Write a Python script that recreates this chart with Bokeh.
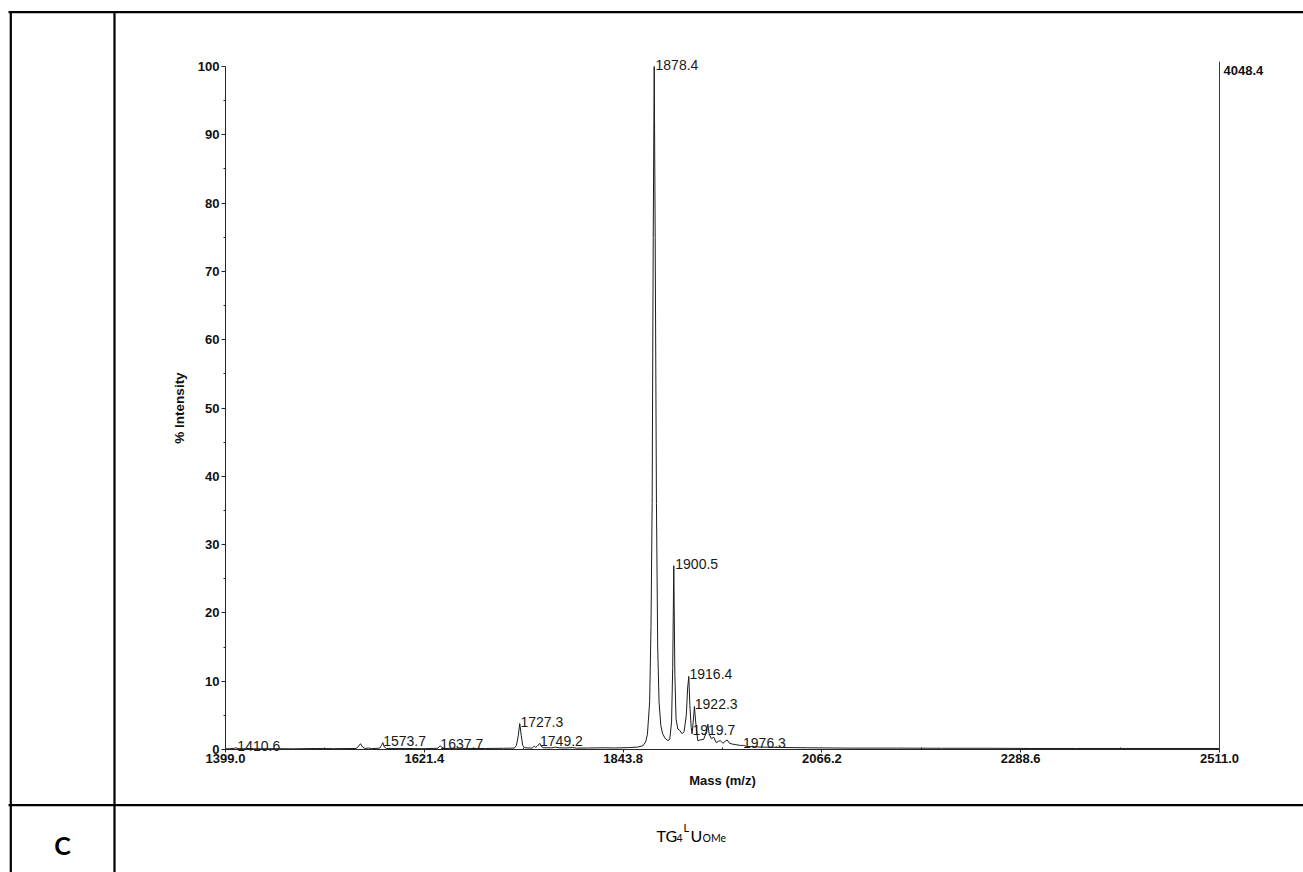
from math import pi
from bokeh.plotting import figure
from bokeh.models import Range1d, LinearAxis, FixedTicker, PrintfTickFormatter, ColumnDataSource
from bokeh.core.properties import value
from bokeh.embed import file_html
from bokeh.resources import INLINE

# ---------------- data ----------------
mass = [1399.0, 1405.0, 1409.0, 1411.0, 1413.0, 1430.0, 1450.0, 1475.0, 1500.0, 1520.0,
        1545.0, 1547.5, 1550.0, 1552.5, 1555.0, 1559.3, 1562.0, 1571.5, 1573.5, 1575.0,
        1576.5, 1579.0, 1600.0, 1620.0, 1636.5, 1638.0, 1639.5, 1641.0, 1644.0, 1660.0,
        1662.0, 1664.0, 1690.0, 1710.0, 1722.0, 1724.5, 1726.5, 1728.2, 1729.8, 1731.5,
        1734.0, 1742.0, 1744.5, 1745.8, 1747.5, 1750.6, 1752.5, 1755.0, 1764.0, 1768.2,
        1772.0, 1780.0, 1786.8, 1792.0, 1805.0, 1824.0, 1835.0, 1850.0, 1860.0, 1866.0,
        1869.0, 1871.0, 1873.5, 1875.0, 1876.3, 1877.5, 1878.6, 1879.7, 1881.1, 1882.5,
        1884.0, 1886.0, 1888.0, 1891.0, 1894.0, 1896.0, 1898.0, 1899.3, 1900.5, 1901.7,
        1903.0, 1905.0, 1907.2, 1909.8, 1912.0, 1914.5, 1916.0, 1917.3, 1918.5, 1920.0,
        1921.0, 1922.2, 1923.6, 1925.0, 1927.3, 1930.0, 1934.0, 1936.5, 1938.6, 1940.2,
        1942.5, 1945.2, 1948.0, 1950.5, 1952.7, 1955.5, 1958.0, 1960.2, 1963.0, 1966.0,
        1970.0, 1975.0, 1978.5, 1982.0, 1990.0, 2000.0, 2020.0, 2050.0, 2100.0, 2150.0,
        2200.0, 2250.0, 2300.0, 2350.0, 2400.0, 2450.0, 2511.0]
intensity = [0.10, 0.12, 0.18, 0.25, 0.12, 0.10, 0.12, 0.10, 0.15, 0.12,
             0.15, 0.40, 0.85, 0.35, 0.15, 0.22, 0.12, 0.20, 0.60, 1.00,
             0.40, 0.15, 0.15, 0.12, 0.18, 0.40, 0.55, 0.30, 0.15, 0.18,
             0.25, 0.15, 0.15, 0.18, 0.20, 0.60, 2.00, 3.80, 2.10, 0.60,
             0.25, 0.20, 0.50, 0.30, 0.45, 0.90, 0.40, 0.25, 0.25, 0.35,
             0.25, 0.22, 0.28, 0.20, 0.22, 0.25, 0.22, 0.28, 0.35, 0.55,
             1.10, 2.20, 7.00, 18.0, 36.0, 75.0, 100.0, 75.0, 36.0, 15.0,
             7.00, 3.50, 2.30, 1.60, 1.30, 1.50, 4.00, 12.0, 26.9, 11.0,
             4.50, 3.00, 2.80, 2.30, 2.60, 5.00, 9.00, 10.7, 6.50, 3.20,
             2.30, 4.00, 6.30, 4.00, 1.30, 1.40, 1.50, 2.40, 3.70, 2.20,
             1.60, 1.80, 1.00, 1.20, 1.30, 0.90, 1.20, 1.40, 0.90, 0.80,
             0.70, 0.60, 0.60, 0.45, 0.40, 0.35, 0.30, 0.25, 0.20, 0.20,
             0.18, 0.18, 0.15, 0.15, 0.15, 0.15, 0.15]

peak_labels = ["1410.6", "1573.7", "1637.7", "1727.3", "1749.2", "1878.4",
               "1900.5", "1916.4", "1922.3", "1919.7", "1976.3"]
peak_heights = [0.25, 1.0, 0.55, 3.8, 0.9, 100.0, 26.9, 10.7, 6.3, 2.6, 0.6]

x_ticks = [1399.0, 1621.4, 1843.8, 2066.2, 2288.6, 2511.0]
x_minor = [1510.2, 1732.6, 1955.0, 2177.4, 2399.8]
y_ticks = [0, 10, 20, 30, 40, 50, 60, 70, 80, 90, 100]
y_minor = [5, 15, 25, 35, 45, 55, 65, 75, 85, 95]
max_counts = "4048.4"
max_marker_height = 100.7

x_label = "Mass (m/z)"
y_label = "% Intensity"
row_label = "C"

# ---------------- layout (page pixels; the page has no body margin) ----------------
W, H = 1303, 872
X0, X1 = 225, 1219          # pixels of 1399.0 and 2511.0
Y0, Y100 = 749, 66          # pixels of 0 % and 100 %
xmin, xmax = x_ticks[0], x_ticks[-1]
sx = (X1 - X0) / (xmax - xmin)
sy = (Y0 - Y100) / 100.0

p = figure(width=W, height=H, output_backend="svg", toolbar_location=None, title=None,
           x_range=Range1d(0, W), y_range=Range1d(H, 0), min_border=0,
           x_axis_type=None, y_axis_type=None)
p.outline_line_color = None
p.background_fill_color = "white"
p.border_fill_color = "white"
p.extra_x_ranges = {"mz": Range1d(xmin - X0 / sx, xmin + (W - X0) / sx)}
p.extra_y_ranges = {"int": Range1d(-(H - Y0) / sy, 100 + Y100 / sy)}

# ---------- table lines ----------
tbl = dict(line_color="black", line_width=2.2)
p.segment(x0=[8, 8], y0=[11.7, 804.7], x1=[W, W], y1=[11.7, 804.7], **tbl)
p.segment(x0=[10.3, 114], y0=[10.6, 10.6], x1=[10.3, 114], y1=[H, H], **tbl)

# ---------- spectrum ----------
ax_col = "#262626"
p.line(mass, intensity, x_range_name="mz", y_range_name="int",
       line_color="#1c1c1c", line_width=1)
p.segment(x0=[xmax], y0=[0], x1=[xmax], y1=[max_marker_height],
          x_range_name="mz", y_range_name="int", line_color="#3a3a3a", line_width=1)

lab_src = ColumnDataSource(dict(x=[float(s) for s in peak_labels], y=peak_heights, t=peak_labels))
p.text(x="x", y="y", text="t", source=lab_src, x_range_name="mz", y_range_name="int",
       x_offset=1.5, y_offset=-2, text_align="left", text_baseline="alphabetic",
       text_font=value("Liberation Sans"), text_font_size="14px", text_color="#1a1a1a")

p.text(x=[xmax], y=[100], text=[max_counts], x_range_name="mz", y_range_name="int",
       x_offset=4, y_offset=4, text_align="left", text_baseline="middle",
       text_font=value("Liberation Sans"), text_font_style="bold",
       text_font_size="13px", text_color="#111111")

# ---------- axes ----------
def style(ax):
    ax.axis_line_color = ax_col
    ax.axis_line_width = 1
    ax.major_tick_line_color = ax_col
    ax.minor_tick_line_color = ax_col
    ax.major_tick_in = 0
    ax.minor_tick_in = 0
    ax.major_label_text_font = "Liberation Sans"
    ax.major_label_text_font_style = "bold"
    ax.major_label_text_font_size = "13px"
    ax.major_label_text_color = "#111111"

xaxis = LinearAxis(x_range_name="mz", y_range_name="int", fixed_location=0,
                   bounds=(xmin, xmax),
                   ticker=FixedTicker(ticks=x_ticks, minor_ticks=x_minor),
                   formatter=PrintfTickFormatter(format="%.1f"))
style(xaxis)
xaxis.major_tick_out = 3
xaxis.minor_tick_out = 0
xaxis.minor_tick_in = 2
xaxis.major_label_standoff = 1
p.add_layout(xaxis, "below")

yaxis = LinearAxis(x_range_name="mz", y_range_name="int", fixed_location=xmin,
                   bounds=(0, 100),
                   ticker=FixedTicker(ticks=y_ticks, minor_ticks=y_minor))
style(yaxis)
yaxis.major_tick_out = 4
yaxis.minor_tick_out = 2
yaxis.major_label_standoff = 2
p.add_layout(yaxis, "left")

# axis titles
p.text(x=[(X0 + X1) / 2], y=[780], text=[x_label], text_align="center", text_baseline="middle",
       text_font=value("Liberation Sans"), text_font_style="bold", text_font_size="13px",
       text_color="#111111")
p.text(x=[179], y=[(Y0 + Y100) / 2], text=[y_label], angle=pi / 2, text_align="center",
       text_baseline="middle", text_font=value("Liberation Sans"), text_font_style="bold",
       text_font_size="13.5px", text_color="#111111")

# ---------- second table row ----------
p.text(x=[62], y=[844], text=[row_label], text_align="center", text_baseline="middle",
       text_font=value("Lato"), text_font_style="bold", text_font_size="25px", text_color="black")

cap = dict(text_align="left", text_baseline="alphabetic", text_font=value("Lato"), text_color="black")
p.text(x=[656], y=[835], text=["TG"], text_font_size="16px", **cap)
p.text(x=[676], y=[837], text=["4"], text_font_size="10.5px", **cap)
p.text(x=[683], y=[827], text=["L"], text_font_size="11px", **cap)
p.text(x=[690], y=[835], text=["U"], text_font_size="16px", **cap)
p.text(x=[702], y=[837], text=["OMe"], text_font_size="10.5px", **cap)

open("out.html", "w").write(file_html(p, INLINE))
